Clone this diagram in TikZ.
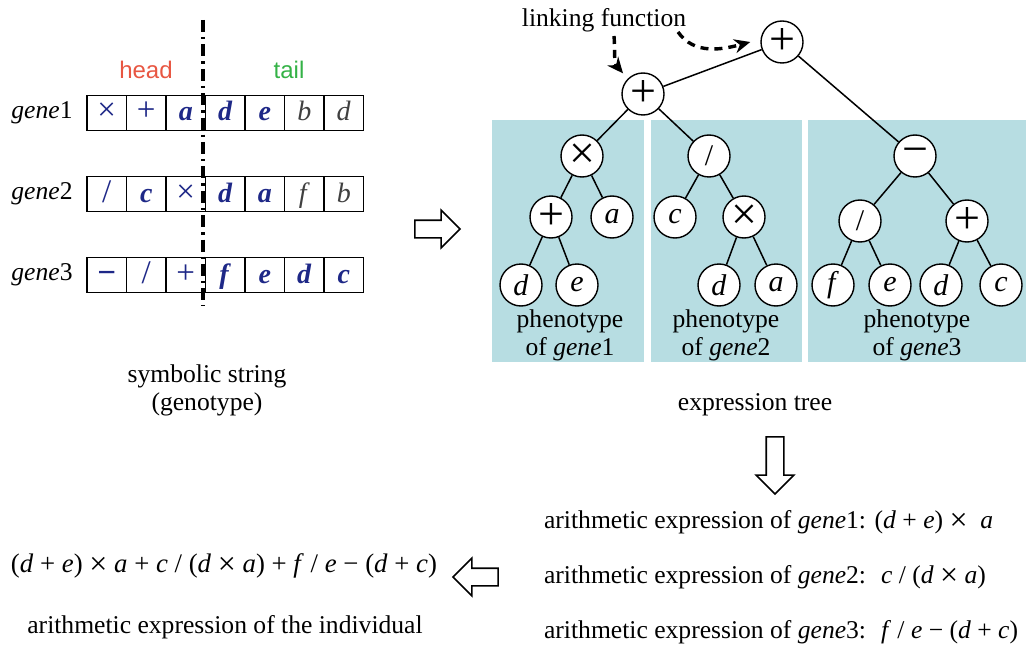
\documentclass[tikz,border=0pt]{standalone}
\usepackage{fontspec}
\setmainfont{Liberation Serif}
\newfontfamily\sansfont{Liberation Sans}
\usetikzlibrary{shapes.arrows,arrows.meta}
\definecolor{symblue}{RGB}{30,40,135}
\definecolor{headred}{RGB}{232,86,66}
\definecolor{tailgreen}{RGB}{52,178,70}
\definecolor{panelblue}{RGB}{183,221,226}
\newcommand{\gn}[1]{\textit{gene}#1}
\newcommand{\used}[1]{\textcolor{symblue}{\textbf{\textit{#1}}}}
\newcommand{\opr}[1]{\textcolor{symblue}{{\fontsize{16.5}{16}\selectfont #1}}}
\newcommand{\unused}[1]{\textcolor{black!75}{\textit{#1}}}
\newcommand{\bop}[1]{{\fontsize{23}{23}\selectfont #1}}
\newcommand{\tms}{\raisebox{-1pt}{\fontsize{16}{14}\selectfont ×}}

\begin{document}
\begin{tikzpicture}[x=0.5pt,y=-0.5pt,
  cell/.style={draw,line width=0.8pt,minimum width=19.75pt,minimum height=17.5pt,inner sep=0pt,text height=11pt,text depth=3pt,font=\fontsize{14}{14}\selectfont},
  tnode/.style={circle,draw,line width=0.7pt,fill=white,minimum size=21pt,inner sep=0pt,font=\fontsize{15}{15}\selectfont},
  txt/.style={font=\fontsize{12.8}{14}\selectfont,align=center},
  hollow/.style={draw,line width=0.8pt,single arrow,single arrow head extend=5pt,inner xsep=0pt,inner ysep=4pt,minimum height=22.5pt},
  link/.style={-{Stealth[length=8pt,width=7pt]},line width=1.7pt,dash pattern=on 4pt off 3pt}]
\useasboundingbox (0,0) rectangle (1026,652);
% genotype
\node[font=\sansfont\fontsize{12}{12}\selectfont,text=headred] (head) at (146,70) {head};
\node[font=\sansfont\fontsize{12}{12}\selectfont,text=tailgreen] (tail) at (289,70) {tail};
\foreach \g/\y in {1/113, 2/194, 3/275}
  \node[txt] (gene\g) at (42,\y) {\gn{\g}};
\foreach \c [count=\i] in {\opr{×}, \opr{+}, \used{a}, \used{d}, \used{e}, \unused{b}, \unused{d}}
  \node[cell] (ca\i) at ({67.25+39.5*\i},113) {\c};
\foreach \c [count=\i] in {\opr{/}, \used{c}, \opr{×}, \used{d}, \used{a}, \unused{f}, \unused{b}}
  \node[cell] (cb\i) at ({67.25+39.5*\i},194) {\c};
\foreach \c [count=\i] in {\opr{\textbf{−}}, \opr{/}, \opr{+}, \used{f}, \used{e}, \used{d}, \used{c}}
  \node[cell] (cc\i) at ({67.25+39.5*\i},275) {\c};
\draw[line width=1.6pt,dash pattern=on 6pt off 2.5pt on 1.2pt off 2.5pt] (203,20) -- (203,306);
\node[txt] (geno) at (207,390) {symbolic string\\(genotype)};
\node[hollow] (toTree) at (433,229) {};
% expression tree
\fill[panelblue] (492,120) rectangle (644,362);
\fill[panelblue] (651,120) rectangle (802,362);
\fill[panelblue] (808,120) rectangle (1026,362);
\node[tnode] (top) at (782,42) {\bop{+}};
\node[tnode] (join) at (643,94) {\bop{+}};
\node[tnode] (ga) at (582,156) {\bop{×}};
\node[tnode] (gb) at (709,156) {/};
\node[tnode] (gc) at (915,156) {\bop{−}};
\node[tnode] (ga1) at (551,217) {\bop{+}};
\node[tnode] (ga2) at (612,217) {\textit{a}};
\node[tnode] (gb1) at (675,217) {\textit{c}};
\node[tnode] (gb2) at (744,217) {\bop{×}};
\node[tnode] (gc1) at (860,221) {/};
\node[tnode] (gc2) at (967,221) {\bop{+}};
\foreach \n/\x/\t in {ga11/521/d, ga12/577/e, gb21/719/d, gb22/776/a, gc11/833/f, gc12/890/e, gc21/941/d, gc22/1001/c}
  \node[tnode] (\n) at (\x,285) {\textit{\t}};
\foreach \p/\c in {top/join, top/gc, join/ga, join/gb, ga/ga1, ga/ga2, ga1/ga11, ga1/ga12, gb/gb1, gb/gb2, gb2/gb21, gb2/gb22, gc/gc1, gc/gc2, gc1/gc11, gc1/gc12, gc2/gc21, gc2/gc22}
  \draw[line width=0.75pt] (\p) -- (\c);
\node[txt] (phen1) at (570,335) {phenotype\\of \gn{1}};
\node[txt] (phen2) at (726,335) {phenotype\\of \gn{2}};
\node[txt] (phen3) at (917,335) {phenotype\\of \gn{3}};
\node[txt] (linktext) at (604,20) {linking function};
\coordinate (lf1) at (614,36);
\coordinate (lf2) at (678,32);
\draw[link] (lf1) to[out=-85,in=130] ([shift={(-3pt,2pt)}]join.130);
\draw[link] (lf2) to[out=-55,in=195] ([xshift=-5pt]top.west);
\node[txt] (tree) at (755,405) {expression tree};
% arithmetic expressions
\node[hollow,rotate=-90,minimum height=28.5pt] (toExpr) at (775,461) {};
\node[txt,anchor=west] (expr1) at (537,522) {arithmetic expression of \gn{1}: (\textit{d} + \textit{e}) \tms\ \ \textit{a}};
\node[txt,anchor=west] (expr2) at (537,577) {arithmetic expression of \gn{2}: \ \textit{c} / (\textit{d} \tms\ \textit{a})};
\node[txt,anchor=west] (expr3) at (537,632) {arithmetic expression of \gn{3}: \ \textit{f} / \textit{e} − (\textit{d} + \textit{c})};
\node[hollow,rotate=180] (toIndiv) at (480,577) {};
\node[txt,font=\fontsize{13.4}{14}\selectfont] (indiv) at (224,566) {(\textit{d} + \textit{e}) \tms\ \textit{a} + \textit{c} / (\textit{d} \tms\ \textit{a}) + \textit{f} / \textit{e} − (\textit{d} + \textit{c})};
\node[txt] (indivtext) at (225,627) {arithmetic expression of the individual};
\end{tikzpicture}
\end{document}
